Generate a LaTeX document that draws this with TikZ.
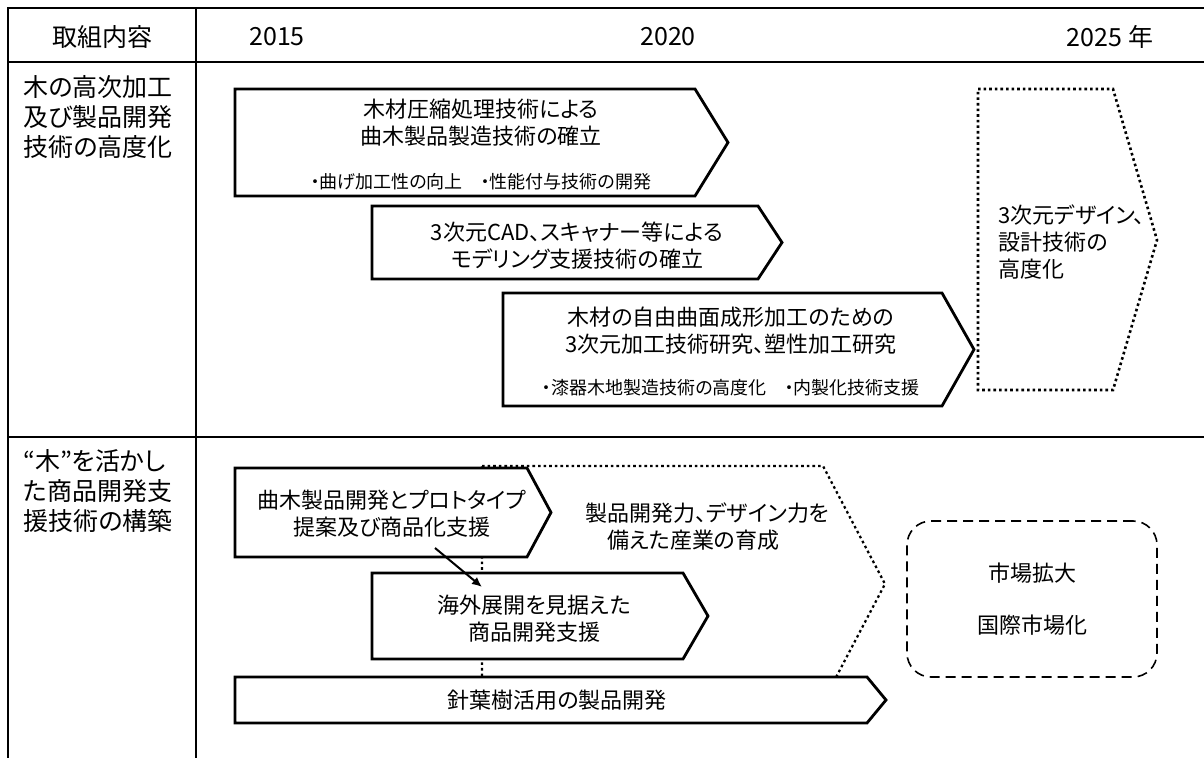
\documentclass[tikz,border=0pt]{standalone}
\usepackage{fontspec}
\setmainfont{Noto Sans CJK JP}[RawFeature=+palt]
\usepackage{tikz}
\usetikzlibrary{arrows.meta}

\begin{document}
\begin{tikzpicture}[x=0.5pt,y=-0.5pt,
  rule/.style={line width=0.8pt},
  plan/.style={draw,line width=1.4pt,fill=white,line join=miter},
  vision/.style={draw,line width=1.3pt,dash pattern=on 1.3pt off 1.5pt},
  yearhead/.style={font=\fontsize{12.5}{15}\selectfont},
  rowlabel/.style={font=\fontsize{12.5}{15}\selectfont,align=left,anchor=west,inner sep=0pt},
  plantext/.style={font=\fontsize{11}{13.5}\selectfont,align=center},
  plannote/.style={font=\fontsize{9}{11}\selectfont}]
\useasboundingbox (0,0) rectangle (1204,758);

% table
\draw[rule] (8,758) -- (8,8) -- (1204,8) (8,62) -- (1204,62) (8,437) -- (1204,437) (196,8) -- (196,758);
\node[yearhead] (task) at (102,37) {取組内容};
\node[yearhead] (y2015) at (277,37) {2015};
\node[yearhead] (y2020) at (668,37) {2020};
\node[yearhead] (y2025) at (1110,37) {2025 年};
\node[rowlabel] (advanced) at (23,117) {木の高次加工\\及び製品開発\\技術の高度化};
\node[rowlabel] (products) at (23,491) {“木”を活かし\\た商品開発支\\援技術の構築};

% row 1
\draw[vision] (978,89) -- (1113,89) -- (1157,240) -- (1113,390) -- (978,390) -- cycle;
\draw[plan] (235,89) -- (695,89) -- (728,142.5) -- (695,196) -- (235,196) -- cycle;
\draw[plan] (372,206) -- (758,206) -- (782,242.5) -- (758,279) -- (372,279) -- cycle;
\draw[plan] (503,293) -- (942,293) -- (974,349.5) -- (942,406) -- (503,406) -- cycle;
\node[plantext] (bentwood) at (481,123) {木材圧縮処理技術による\\曲木製品製造技術の確立};
\node[plannote] (bentnote) at (481,182) {・曲げ加工性の向上\quad ・性能付与技術の開発};
\node[plantext] (modeling) at (577,246) {3次元CAD、スキャナー等による\\モデリング支援技術の確立};
\node[plantext] (freeform) at (731,331) {木材の自由曲面成形加工のための\\3次元加工技術研究、塑性加工研究};
\node[plannote] (freenote) at (731,388) {・漆器木地製造技術の高度化\quad ・内製化技術支援};
\node[plantext,align=left,anchor=west,inner sep=0pt] (design) at (998,242) {3次元デザイン、\\設計技術の\\高度化};

% row 2
\draw[vision,line width=1.1pt] (482,466) -- (823,466) -- (885,584) -- (823,702) -- (482,702) -- cycle;
\draw[plan] (235,468) -- (527,468) -- (551,512.5) -- (527,557) -- (235,557) -- cycle;
\draw[plan] (372,573) -- (683,573) -- (708,616) -- (683,659) -- (372,659) -- cycle;
\draw[plan] (235,677) -- (867,677) -- (886,700) -- (867,723) -- (235,723) -- cycle;
\node[plantext,align=left,anchor=west,inner sep=0pt] (industry) at (585,527) {製品開発力、デザイン力を\\\hspace*{1em}備えた産業の育成};
\node[plantext] (prototype) at (392,514) {曲木製品開発とプロトタイプ\\提案及び商品化支援};
\node[plantext] (overseas) at (534,619) {海外展開を見据えた\\商品開発支援};
\node[plantext] (conifer) at (557,700) {針葉樹活用の製品開発};
\node[plantext,draw,line width=0.8pt,dash pattern=on 5pt off 3pt,rounded corners=12pt,
  minimum width=125pt,minimum height=78pt] (market) at (1032,599) {市場拡大\\[12.5pt]国際市場化};
\coordinate (prototypeout) at (435,548);
\coordinate (overseasin) at (482,587);
\draw[-{Latex[length=5pt,width=4.5pt]},line width=1pt] (prototypeout) -- (overseasin);
\end{tikzpicture}
\end{document}
